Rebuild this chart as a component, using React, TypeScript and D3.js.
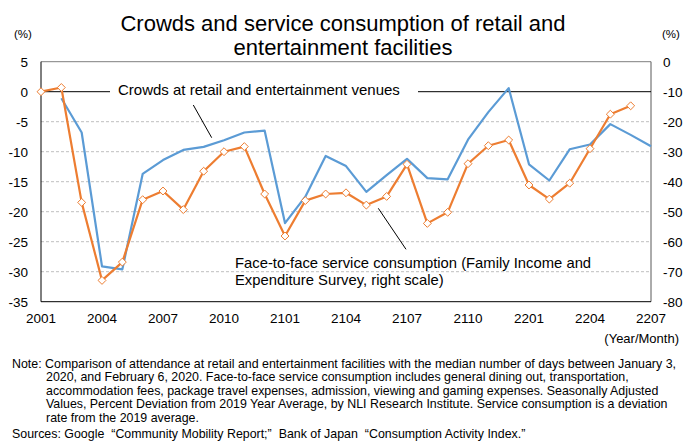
import React from "react";
import * as d3 from "d3";

const months = [
  "2001","2002","2003","2004","2005","2006","2007","2008","2009","2010","2011","2012",
  "2101","2102","2103","2104","2105","2106","2107","2108","2109","2110","2111","2112",
  "2201","2202","2203","2204","2205","2206","2207",
];
const tickMonths = ["2001","2004","2007","2010","2101","2104","2107","2110","2201","2204","2207"];

// Crowds at retail and entertainment venues (left scale, %)
const crowds: (number | null)[] = [
  null, -1.1, -6.8, -29.1, -29.6, -13.7, -11.4, -9.7, -9.2, -8.1, -6.8, -6.5,
  -21.9, -17.5, -10.7, -12.4, -16.7, -13.9, -11.2, -14.4, -14.6, -8.0, -3.4, 0.6,
  -12.1, -14.8, -9.6, -8.8, -5.4, -7.2, -9.1,
];
// Face-to-face service consumption (right scale, %)
const service: (number | null)[] = [
  -10, -8.6, -46.9, -72.9, -66.8, -46.0, -43.1, -49.3, -36.5, -30.0, -28.3, -44.1,
  -58.1, -46.3, -44.1, -43.7, -47.8, -44.9, -34.2, -53.9, -50.2, -34.0, -28.0, -26.1,
  -41.1, -45.8, -40.5, -29.0, -17.5, -14.7, null,
];
const leftTicks = [5, 0, -5, -10, -15, -20, -25, -30, -35];
const rightTicks = [0, -10, -20, -30, -40, -50, -60, -70, -80];

const titleLines = ["Crowds and service consumption of retail and", "entertainment facilities"];
const noteLines = [
  "Note: Comparison of attendance at retail and entertainment facilities with the median number of days between January 3,",
  "2020, and February 6, 2020. Face-to-face service consumption includes general dining out, transportation,",
  "accommodation fees, package travel expenses, admission, viewing and gaming expenses. Seasonally Adjusted",
  "Values, Percent Deviation from 2019 Year Average, by NLI Research Institute. Service consumption is a deviation",
  "rate from the 2019 average.",
];
const sourceLine = "Sources: Google \u201cCommunity Mobility Report;\u201d Bank of Japan \u201cConsumption Activity Index.\u201d";
const crowdsLabel = "Crowds at retail and entertainment venues";
const serviceLabel = [
  "Face-to-face service consumption (Family Income and",
  "Expenditure Survey, right scale)",
];

const W = 688, H = 441;
const L = 41, R = 651, T = 61.7, B = 301.7;
const BLUE = "#5B9BD5";
const ORANGE = "#ED7D31";
const FONT = "'Liberation Sans', Arial, sans-serif";

export default function App() {
  const x = d3.scalePoint<string>().domain(months).range([L, R]);
  const yL = d3.scaleLinear().domain([-35, 5]).range([B, T]);
  const yR = d3.scaleLinear().domain([-80, 0]).range([B, T]);

  const blueLine = d3
    .line<number | null>()
    .defined((d) => d !== null)
    .x((_, i) => x(months[i])!)
    .y((d) => yL(d as number));
  const orangeLine = d3
    .line<number | null>()
    .defined((d) => d !== null)
    .x((_, i) => x(months[i])!)
    .y((d) => yR(d as number));

  const diamond = d3.symbol().type(d3.symbolDiamond2).size(40)();

  // slightly wider quote spacing, as in the reference
  const sourceParts = sourceLine.split(/([\u201c\u201d])/).filter((s) => s.length > 0);
  let afterClose = false;

  return (
    <svg
      width={W}
      height={H}
      style={{ position: "absolute", left: 0, top: 0, background: "#fff" }}
      fontFamily={FONT}
    >
      <rect x={0} y={0} width={W} height={H} fill="#fff" />
      {/* title */}
      {titleLines.map((t, i) => (
        <text key={i} x={343} y={31 + i * 24} textAnchor="middle" fontSize={22} fill="#000">
          {t}
        </text>
      ))}
      <text x={14} y={38} fontSize={11.5} fill="#000">(%)</text>
      <text x={662} y={38} fontSize={11.5} fill="#000">(%)</text>

      {/* gridlines */}
      {leftTicks
        .filter((v) => v < 5 && v > -35 && v !== 0)
        .map((v) => (
          <line
            key={v}
            x1={L}
            x2={R}
            y1={yL(v)}
            y2={yL(v)}
            stroke="#BFBFBF"
            strokeWidth={1}
            strokeDasharray="3,2"
          />
        ))}
      {/* frame */}
      <line x1={L} x2={R} y1={T} y2={T} stroke="#7F7F7F" strokeWidth={1} />
      <line x1={R} x2={R} y1={T} y2={B} stroke="#595959" strokeWidth={1} />
      <line x1={L} x2={L} y1={T} y2={B} stroke="#000" strokeWidth={1} />
      <line x1={L} x2={R} y1={B} y2={B} stroke="#000" strokeWidth={1} />
      <line x1={L} x2={R} y1={yL(0)} y2={yL(0)} stroke="#000" strokeWidth={1} />

      {/* left ticks */}
      {leftTicks.map((v) => (
        <text key={v} x={28} y={yL(v) + 4.8} textAnchor="end" fontSize={13.5} fill="#000">
          {v}
        </text>
      ))}
      {/* right ticks */}
      {rightTicks.map((v) => (
        <text key={v} x={663} y={yR(v) + 4.8} textAnchor="start" fontSize={13.5} fill="#000">
          {v}
        </text>
      ))}
      {/* x ticks */}
      {tickMonths.map((m) => (
        <text key={m} x={x(m)!} y={323} textAnchor="middle" fontSize={13.5} fill="#000">
          {m}
        </text>
      ))}
      <text x={679} y={343} textAnchor="end" fontSize={13} fill="#000">(Year/Month)</text>

      {/* crowds label with white backing */}
      <rect x={110} y={82} width={308} height={18} fill="#fff" />
      <text x={118} y={95} fontSize={15} fill="#000">{crowdsLabel}</text>
      <line x1={193.3} y1={105} x2={211.7} y2={137.7} stroke="#000" strokeWidth={1} />

      {/* service label */}
      {serviceLabel.map((t, i) => (
        <text key={i} x={235} y={268 + i * 17} fontSize={14.8} fill="#000">{t}</text>
      ))}
      <line x1={378.3} y1={208.3} x2={406} y2={249.3} stroke="#000" strokeWidth={1} />

      {/* series */}
      <path d={blueLine(crowds) || ""} fill="none" stroke={BLUE} strokeWidth={2.2} strokeLinejoin="round" />
      <path d={orangeLine(service) || ""} fill="none" stroke={ORANGE} strokeWidth={2.2} strokeLinejoin="round" />
      {service.map((v, i) =>
        v === null ? null : (
          <path
            key={i}
            d={diamond!}
            transform={`translate(${x(months[i])},${yR(v)})`}
            fill="#fff"
            stroke={ORANGE}
            strokeWidth={1}
          />
        )
      )}

      {/* notes */}
      {noteLines.map((t, i) => (
        <text key={i} x={i === 0 ? 12 : 46} y={367.5 + i * 13.6} fontSize={12.4} fill="#000">
          {t}
        </text>
      ))}
      <text x={12} y={438} fontSize={12.4} fill="#000">
        {sourceParts.map((p, i) => {
          let dx = 0;
          if (p === "\u201c") dx = 3.5;
          else if (afterClose) dx = 3.5;
          afterClose = p === "\u201d";
          return (
            <tspan key={i} dx={dx}>
              {p}
            </tspan>
          );
        })}
      </text>
    </svg>
  );
}
